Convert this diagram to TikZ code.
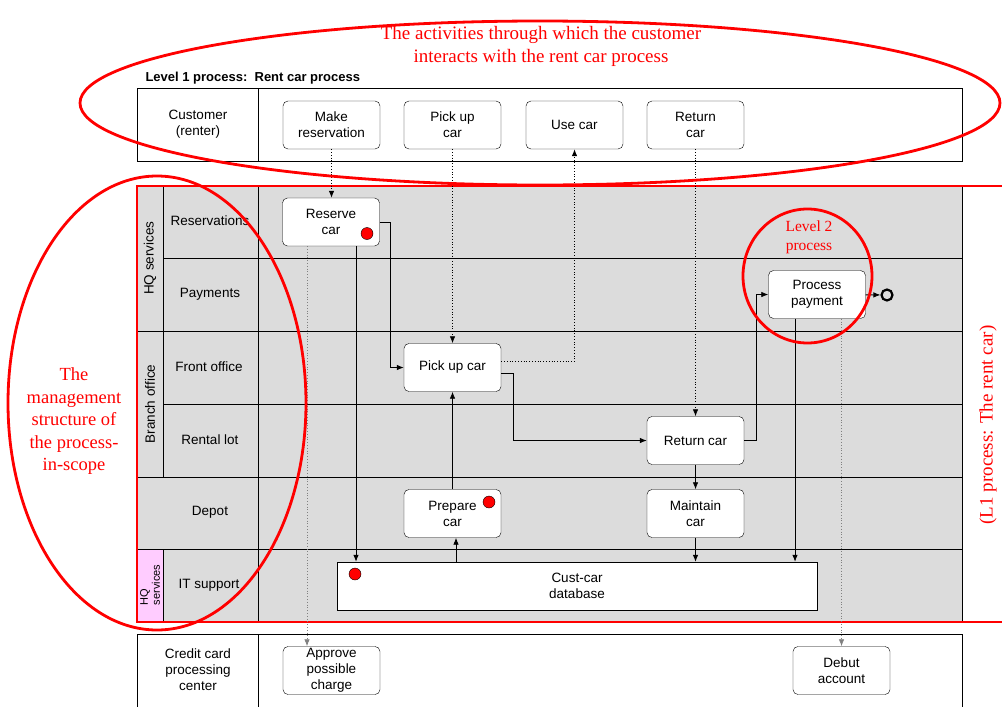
\documentclass[tikz,border=0pt]{standalone}
\usepackage{fontspec}
\setmainfont{Liberation Sans}
\newfontfamily\notefont{Liberation Serif}
\usetikzlibrary{arrows.meta}

\definecolor{lanegray}{RGB}{220,220,220}
\definecolor{hqpink}{RGB}{255,204,255}

\begin{document}
\begin{tikzpicture}[x=1pt, y=-1pt,
  every node/.style={font=\fontsize{13.5}{16}\selectfont},
  task/.style={draw, rounded corners=5pt, fill=white, minimum width=97pt,
    minimum height=48pt, align=center, inner sep=1pt},
  flow/.style={-{Latex[length=7pt,width=5.5pt]}, line width=0.8pt},
  msg/.style={flow, dotted},
  lane/.style={draw, line width=0.8pt},
  startdot/.style={circle, draw, fill=red, inner sep=0pt, minimum size=12pt},
  ring/.style={draw=red, line width=2.8pt},
  note/.style={text=red, align=center, font=\notefont\fontsize{19}{23}\selectfont}]
  \useasboundingbox (0,0) rectangle (1002,707);

  % customer pool
  \draw[lane] (137,88) rectangle (962,161);
  \draw[lane] (258,88) -- (258,161);
  \node[anchor=base west, font=\bfseries\fontsize{13}{15}\selectfont] (lvl) at (142,81)
    {Level 1 process:\ \ Rent car process};
  \node[align=center] (cust) at (198,124) {Customer\\(renter)};

  % rent car pool with its lanes
  \fill[lanegray] (137,186) rectangle (962,622);
  \fill[hqpink] (137,549) rectangle (163,622);
  \draw[lane] (258,186) -- (258,622);
  \draw[lane] (962,186) -- (962,622);
  \draw[lane] (163,186) -- (163,477);
  \draw[lane] (163,549) -- (163,622);
  \draw[lane] (163,258) -- (962,258);
  \draw[lane] (137,331) -- (962,331);
  \draw[lane] (163,404) -- (962,404);
  \draw[lane] (137,477) -- (962,477);
  \draw[lane] (137,549) -- (962,549);
  \draw[red, line width=1.2pt] (1006,186) -- (137,186) -- (137,622) -- (1006,622);

  \node[rotate=90] (hq) at (150,258) {HQ services};
  \node[rotate=90] (branch) at (150,404) {Branch office};
  \node[rotate=90, align=left, font=\fontsize{11}{12}\selectfont] (hqit) at (150,585) {HQ\\services};
  \node (l1) at (210,221) {Reservations};
  \node (l2) at (210,294) {Payments};
  \node (l3) at (209,367) {Front office};
  \node (l4) at (210,440) {Rental lot};
  \node (l5) at (210,512) {Depot};
  \node (l6) at (209,585) {IT support};

  % credit card pool
  \draw[lane] (137,712) -- (137,634) -- (962,634) -- (962,712);
  \draw[lane] (258,634) -- (258,712);
  \node[align=center] (ccpc) at (198,670) {Credit card\\processing\\center};

  % activities
  \node[task] (mkres) at (331.5,125) {Make\\reservation};
  \node[task] (pick) at (452.5,125) {Pick up\\car};
  \node[task] (use) at (574.5,125) {Use car};
  \node[task] (ret) at (695.5,125) {Return\\car};
  \node[task] (rsv) at (331,222) {Reserve\\car};
  \node[task] (pay) at (817,294.5) {Process\\payment};
  \node[task] (pickup) at (452.5,367.5) {Pick up car};
  \node[task] (retcar) at (695.5,440.5) {Return car};
  \node[task] (prep) at (452.5,513.5) {Prepare\\car};
  \node[task] (maint) at (695.5,513.5) {Maintain\\car};
  \node[draw, fill=white, minimum width=480pt, minimum height=48pt, align=center] (db)
    at (577,586) {Cust-car\\database};
  \node[task, inner sep=0pt] (apc) at (331.5,670.5) {Approve\\possible\\charge};
  \node[task] (debit) at (841.5,670.5) {Debut\\account};
  \node[circle, draw, line width=2.2pt, minimum size=11pt, inner sep=0pt] (fin) at (887,295) {};

  \node[startdot] (d1) at (367,233.5) {};
  \node[startdot] (d2) at (489,502) {};
  \node[startdot] (d3) at (355,574) {};

  % flows
  \draw[msg] (mkres.south) -- (mkres.south |- rsv.north);
  \draw[msg] (pick.south) -- (pickup.north);
  \draw[msg] ([yshift=6pt]pickup.east) -| (use.south);
  \draw[msg] (ret.south) -- (retcar.north);
  \draw[flow] (rsv.east) -- ++(11,0) |- (pickup.west);
  \draw[flow] ([xshift=25pt]rsv.south) -- ([xshift=25pt]rsv.south |- db.north);
  \draw[msg, draw=gray] ([xshift=-24pt]rsv.south) -- ([xshift=-24pt]rsv.south |- apc.north);
  \draw[flow] ([yshift=-6pt]pickup.east) -- ++(12,0) |- (retcar.west);
  \draw[flow] (prep) -- (pickup);
  \draw[flow] ([xshift=3.5pt]prep.south |- db.north) -- ([xshift=3.5pt]prep.south);
  \draw[flow] (retcar.east) -- ++(12,0) |- (pay.west);
  \draw[flow] (retcar) -- (maint);
  \draw[flow] (maint.south) -- (maint.south |- db.north);
  \draw[flow] ([xshift=-22pt]pay.south) -- ([xshift=-22pt]pay.south |- db.north);
  \draw[msg, draw=gray] (debit.north |- pay.south) -- (debit.north);
  \draw[flow] (pay) -- (fin);

  % remarks in red
  \draw[ring] (540,103) ellipse [x radius=460, y radius=82];
  \node[note] (custnote) at (541,46.5) {The activities through which the customer\\interacts with the rent car process};
  \draw[ring] (157,403) ellipse [x radius=149, y radius=227];
  \node[note, font=\notefont\fontsize{18.5}{22.5}\selectfont] (mgmt) at (74,421.5)
    {The\\management\\structure of\\the process-\\in-scope};
  \draw[ring] (807.5,276) ellipse [x radius=64.5, y radius=67];
  \node[note, font=\notefont\fontsize{15.5}{19}\selectfont] (lvl2) at (809,237.5) {Level 2\\process};
  \node[note, rotate=90] (scope) at (988,425) {(L1 process: The rent car)};
\end{tikzpicture}
\end{document}
